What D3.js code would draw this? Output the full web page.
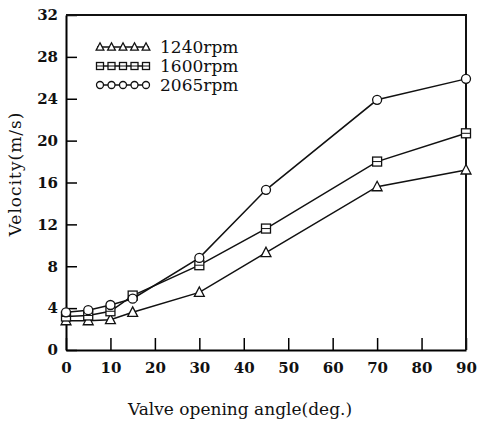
<!DOCTYPE html>
<html>
<head>
<meta charset="utf-8">
<script src="https://cdn.jsdelivr.net/npm/d3@7"></script>
<style>
  body { margin: 0; background: #fff; }
  svg text { font-family: "DejaVu Serif", "Liberation Serif", serif; fill: #111; }
</style>
</head>
<body>
<div id="main"></div>
<script>
const ctx = {
    margin: {top: 15, right: 12, bottom: 73, left: 66},
    width: 478,
    height: 423
};
ctx.width -= ctx.margin.left + ctx.margin.right;
ctx.height -= ctx.margin.top + ctx.margin.bottom;

// valve opening angle (deg.)
const angles = [0, 5, 10, 15, 30, 45, 70, 90];
const v1240 = [2.8, 2.8, 2.9, 3.6, 5.5, 9.3, 15.6, 17.2];
const v1600 = [3.2, 3.3, 3.7, 5.2, 8.1, 11.6, 18.0, 20.7];
const v2065 = [3.6, 3.8, 4.3, 4.9, 8.8, 15.3, 23.9, 25.9];
const seriesNames = ["1240rpm", "1600rpm", "2065rpm"];
const seriesShapes = ["triangle", "square", "circle"];
const xTicks = [0, 10, 20, 30, 40, 50, 60, 70, 80, 90];
const yTicks = [0, 4, 8, 12, 16, 20, 24, 28, 32];

const series = [v1240, v1600, v2065].map((vals, i) => ({
    name: seriesNames[i],
    shape: seriesShapes[i],
    points: angles.map((a, j) => ({x: a, y: vals[j]}))
}));

function drawMarker(g, shape, cx, cy, s) {
    if (shape === "triangle") {
        g.append("path")
            .attr("d", `M${cx},${cy - s * 0.6}L${cx + s * 0.55},${cy + s * 0.45}L${cx - s * 0.55},${cy + s * 0.45}Z`)
            .attr("fill", "#fff").attr("stroke", "#111").attr("stroke-width", 1.3);
    } else if (shape === "square") {
        g.append("rect")
            .attr("x", cx - s / 2).attr("y", cy - s / 2)
            .attr("width", s).attr("height", s)
            .attr("fill", "#fff").attr("stroke", "#111").attr("stroke-width", 1.3);
        g.append("line")
            .attr("x1", cx - s / 2).attr("x2", cx + s / 2)
            .attr("y1", cy).attr("y2", cy)
            .attr("stroke", "#111").attr("stroke-width", 1);
    } else {
        g.append("circle")
            .attr("cx", cx).attr("cy", cy).attr("r", s / 2)
            .attr("fill", "#fff").attr("stroke", "#111").attr("stroke-width", 1.3);
    }
}

function createViz() {
    const svg = d3.select("#main").append("svg")
        .attr("width", 478)
        .attr("height", 423);
    const chart = svg.append("g")
        .attr("transform", `translate(${ctx.margin.left},${ctx.margin.top})`);

    const x = d3.scaleLinear().domain([0, 90]).range([0, ctx.width]);
    const y = d3.scaleLinear().domain([0, 32]).range([ctx.height, 0]);

    // x axis, ticks pointing into the plot
    const xAxis = chart.append("g")
        .attr("transform", `translate(0,${ctx.height})`)
        .call(d3.axisBottom(x).tickValues(xTicks).tickSizeInner(-12).tickSizeOuter(0).tickPadding(8));
    xAxis.select(".domain").attr("stroke-width", 2);
    xAxis.selectAll(".tick line").attr("stroke-width", 1.5);
    xAxis.selectAll(".tick text")
        .attr("dy", "1em")
        .style("font-size", "15px").style("font-weight", "bold")
        .text(d => d);

    // y axis, ticks pointing into the plot
    const yAxis = chart.append("g")
        .call(d3.axisLeft(y).tickValues(yTicks).tickSizeInner(-11).tickSizeOuter(0).tickPadding(8));
    yAxis.select(".domain").attr("stroke-width", 2);
    yAxis.selectAll(".tick line").attr("stroke-width", 1.5);
    yAxis.selectAll(".tick text")
        .style("font-size", "15px").style("font-weight", "bold");

    // top and right frame
    chart.append("path")
        .attr("d", `M0,0H${ctx.width}V${ctx.height}`)
        .attr("fill", "none").attr("stroke", "#111").attr("stroke-width", 2);

    const line = d3.line().x(d => x(d.x)).y(d => y(d.y));
    series.forEach(s => {
        chart.append("path")
            .datum(s.points)
            .attr("d", line)
            .attr("fill", "none")
            .attr("stroke", "#111")
            .attr("stroke-width", 1.5);
        const mg = chart.append("g");
        s.points.forEach(p => drawMarker(mg, s.shape, x(p.x), y(p.y), 9));
    });

    // legend
    const legend = chart.append("g").attr("transform", "translate(31,32)");
    series.forEach((s, i) => {
        const row = legend.append("g").attr("transform", `translate(0,${i * 19})`);
        row.append("line")
            .attr("x1", 0).attr("x2", 52).attr("y1", 0).attr("y2", 0)
            .attr("stroke", "#111").attr("stroke-width", 1.3);
        d3.range(5).forEach(k => drawMarker(row, s.shape, 3 + k * 11.5, 0, 7));
        row.append("text")
            .attr("x", 63).attr("y", 0).attr("dy", "0.36em")
            .style("font-size", "17px")
            .text(s.name);
    });

    // axis titles
    svg.append("text")
        .attr("x", 240)
        .attr("y", 415)
        .attr("text-anchor", "middle")
        .style("font-size", "17px")
        .text("Valve opening angle(deg.)");

    svg.append("text")
        .attr("transform", "translate(21,174) rotate(-90)")
        .attr("text-anchor", "middle")
        .style("font-size", "17px")
        .style("letter-spacing", "1px")
        .text("Velocity(m/s)");
}

createViz();
</script>
</body>
</html>
